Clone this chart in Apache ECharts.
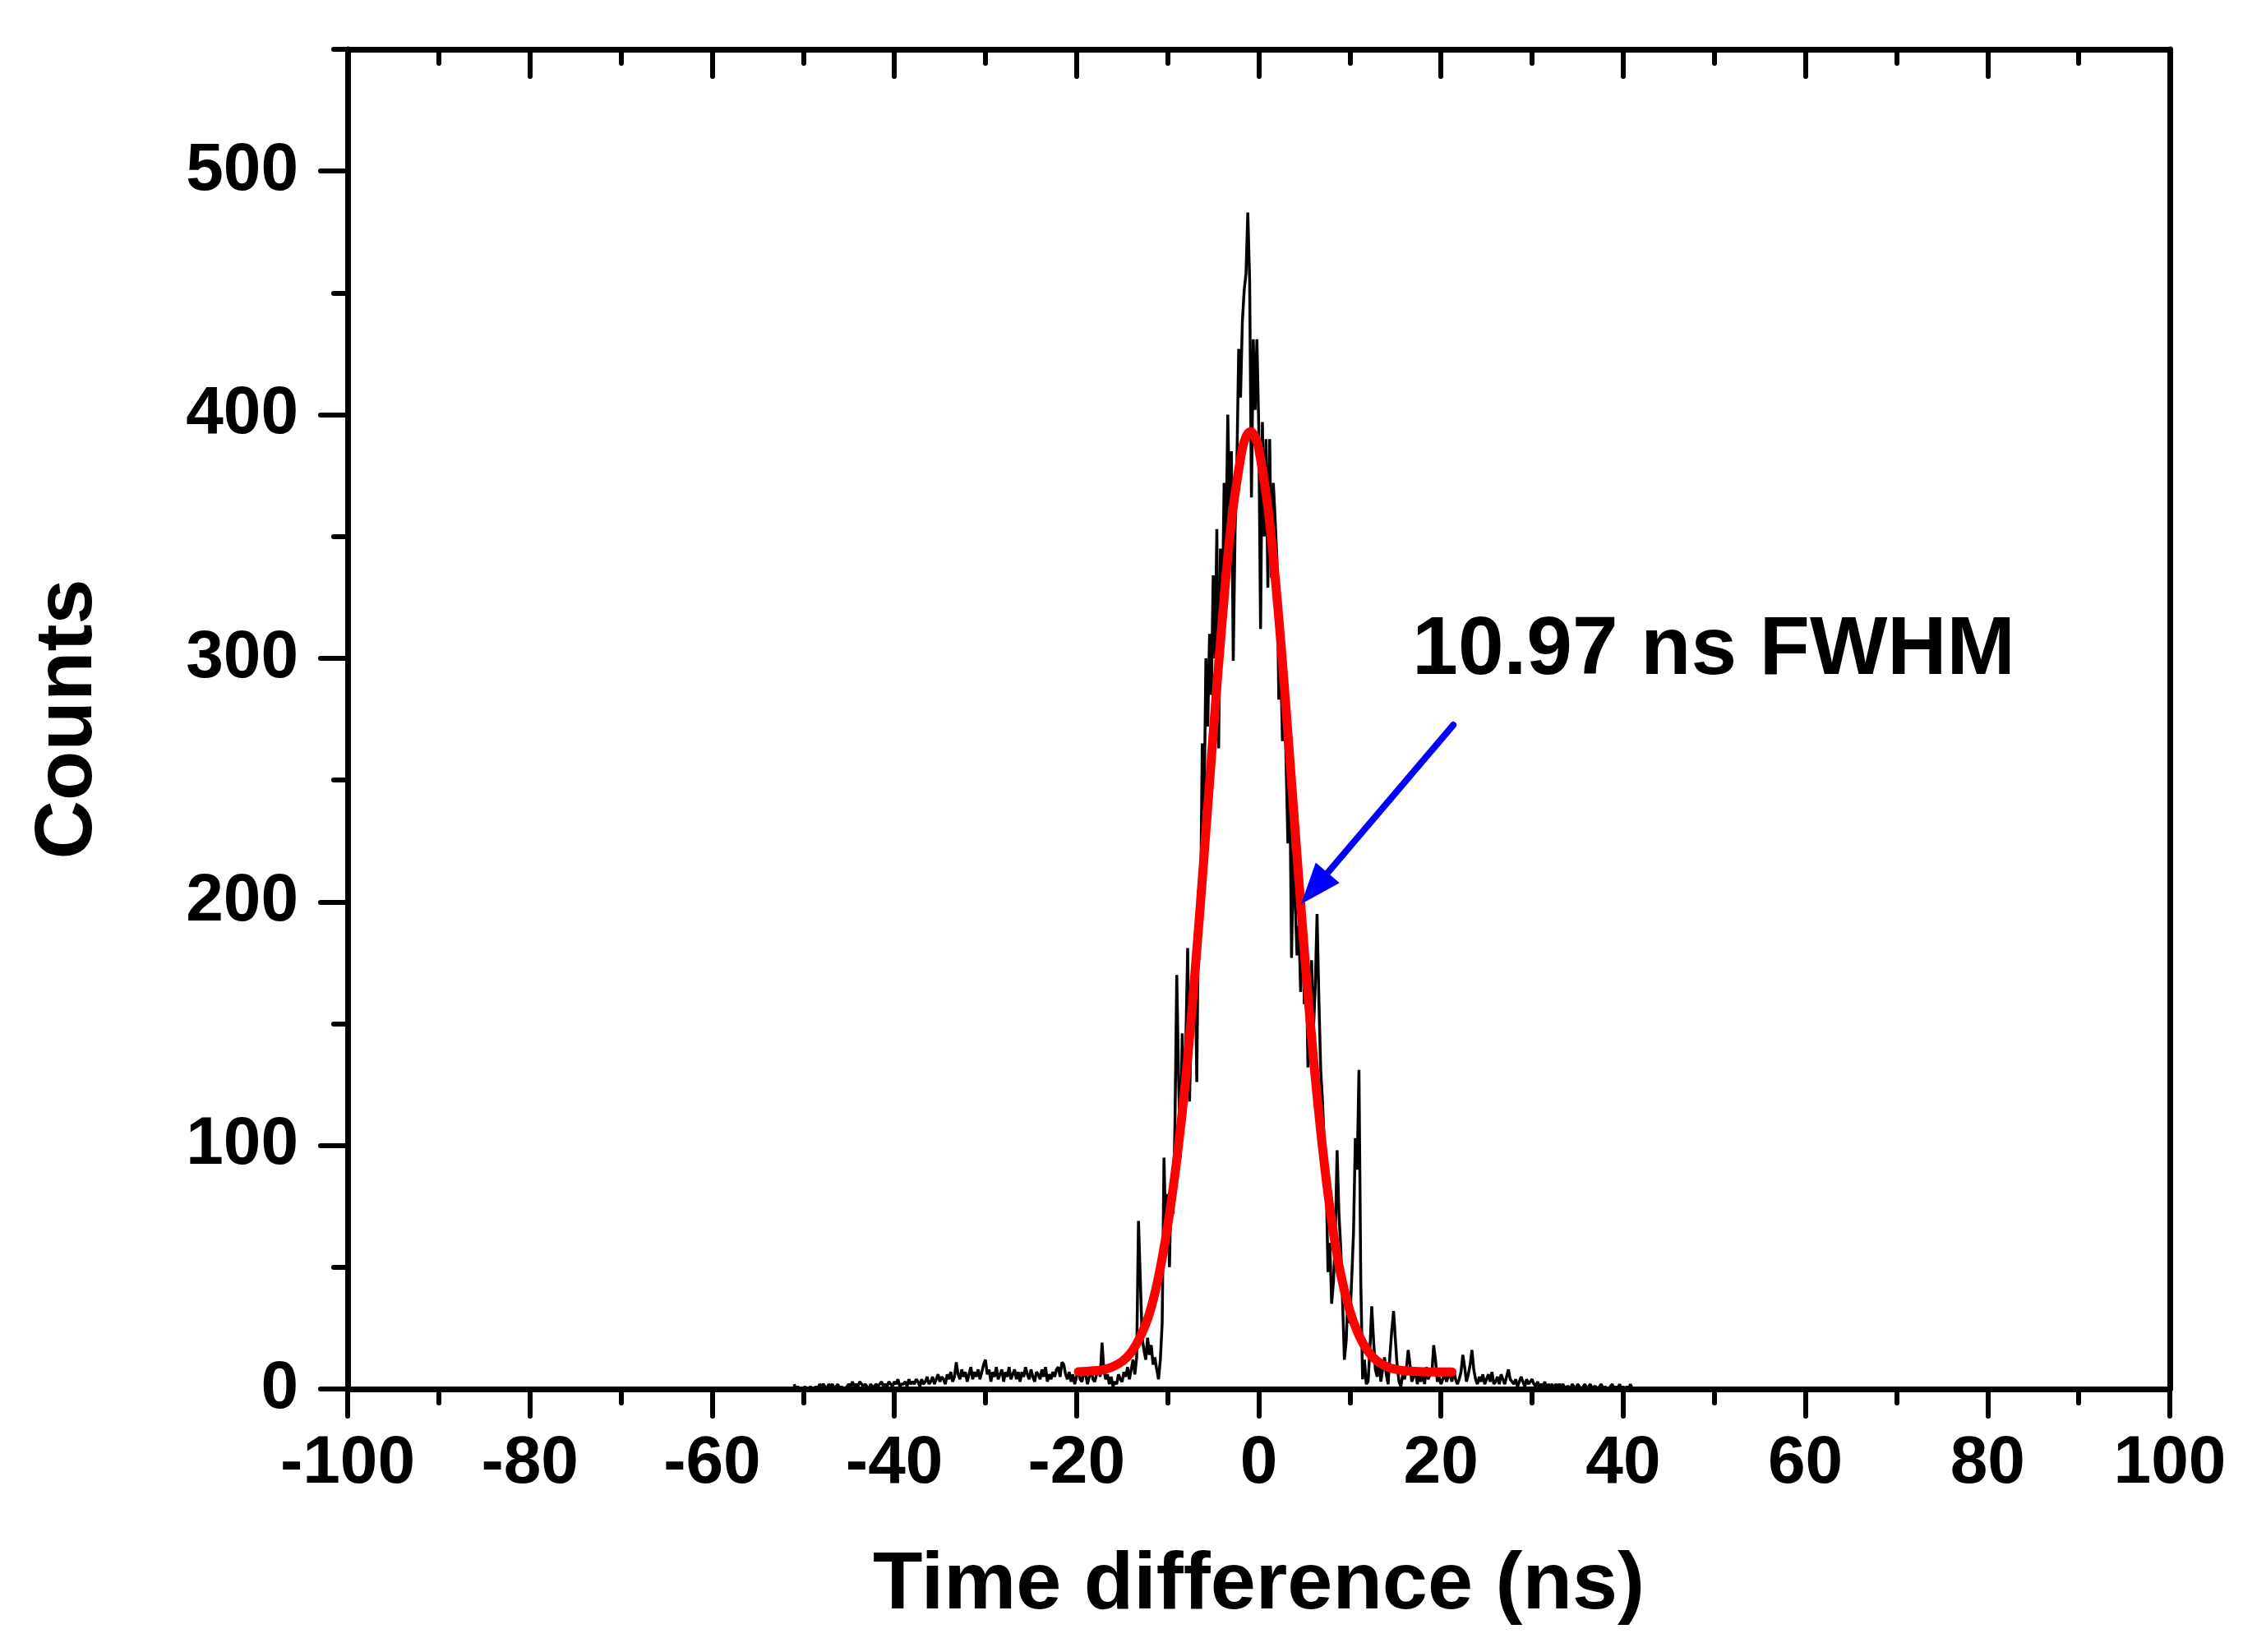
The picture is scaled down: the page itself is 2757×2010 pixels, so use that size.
<!DOCTYPE html>
<html><head><meta charset="utf-8">
<script src="https://cdn.jsdelivr.net/npm/echarts@6/dist/echarts.min.js"></script>
<style>html,body{margin:0;padding:0;background:#fff}#c{width:2757px;height:2010px}</style>
</head><body><div id="c"></div>
<script>
// Histogram: bins of 0.2 ns starting at -51.0 ns
const binStart = -51.0;
const binWidth = 0.2;
const counts = [
  2,0,1,0,0, 0,1,0,0,1, 0,0,1,0,2, 1,2,1,0,2, 1,2,0,1,2, 0,1,0,0,1,
  2,1,3,1,2, 1,3,2,1,2, 1,0,2,1,1, 2,1,2,3,1, 2,1,3,2,1, 3,2,4,1,2,
  2,3,1,4,2, 3,2,4,3,1, 4,2,3,5,2, 3,5,2,4,6, 3,5,4,2,6, 4,7,3,5,11,
  6,4,8,5,7, 3,6,9,4,7, 5,8,4,7,10, 12,6,8,3,7, 5,9,4,6,8, 3,7,5,9,4,
  6,8,4,7,3, 7,5,9,6,4, 8,5,3,7,6, 4,8,5,9,3, 6,4,7,5,8, 9,5,11,10,6,
  4,7,3,6,2, 5,8,4,3,7, 6,2,5,8,4, 3,6,9,5,19, 8,4,6,2,5, 1,3,2,6,4,
  3,7,5,9,4, 8,12,6,13,69, 45,21,16,12,21, 14,18,10,13,8, 4,12,27,95,62,
  80,50,86,72,108, 170,128,95,146,112, 143,181,118,150,166, 181,126,205,192,265,
  238,300,272,310,285, 334,300,353,263,345, 318,372,345,400,360, 385,299,352,380,427,
  407,438,451,458,483, 455,366,431,402,431,
  395,312,397,350,390, 329,390,333,372,357, 340,283,300,266,290, 257,224,252,177,221,
  200,178,190,163,205, 158,178,132,150,176, 147,165,195,160,131, 118,100,86,48,60,
  35,44,62,98,72, 58,36,12,20,39, 27,45,64,103,90, 131,44,4,12,2,
  3,16,34,20,8, 5,12,3,8,13, 6,2,14,24,32, 20,9,3,1,6, 4,8,16,10,3,
  5,8,2,6,3, 7,2,9,4,6, 6,18,12,3,5, 2,4,7,3,5, 6,3,8,4,2,
  4,7,14,9,3, 6,10,16,8,4, 2,5,3,6,2, 4,6,3,7,2, 3,5,2,6,4,
  2,5,8,4,3, 2,4,1,3,5, 3,1,4,2,3, 4,2,1,3,1, 2,1,3,0,2,
  1,2,0,2,1, 2,1,2,0,1, 1,0,2,1,0, 2,1,0,1,2, 0,1,2,0,1,
  1,0,1,2,0, 1,0,0,1,2, 0,1,0,2,0, 1,0,1,0,2,
  0
];
// Gaussian fit curve
const fitTimes  = [-19.8,-18,-17,-16,-15,-14,-13,-12,-11,-10,-9,-8,-7,-6,-5,-4,-3,-2,-1.5,-0.9,-0.3,0,1,2,3,4,5,6,7,8,9,10,11,12,13,14,15,16,18,21.2];
const fitCounts = [7.1,7.5,8.0,9.2,11.3,15,21.5,31,46,67,94,128,171,219,269,316,356,382,390,393,390,386,362,325,279,229,180,136,99,69,47,32,22,15.4,11.5,9.3,8.1,7.5,7.1,7.0];
// Axis ticks
const yTickLabels = [0,100,200,300,400,500];
const yMinorTicks = [50,150,250,350,450,550];
// Annotation
const annotationText = '10.97 ns FWHM';
const arrowFrom = [21.35, 272.6];
const arrowTo = [6.1, 205.5];
const annotationAt = [16.85, 303];

const FONT = '"Liberation Sans", Arial, sans-serif';
const histData = counts.map((c, i) => [+(binStart + i * binWidth).toFixed(2), c]);
const fitData = fitTimes.map((t, i) => [t, fitCounts[i]]);

const chart = echarts.init(document.getElementById('c'), null, {renderer: 'canvas', width: 2757, height: 2010});
const axisLineStyle = {color: '#000', width: 7};
const tickStyle = {color: '#000', width: 6, cap: 'round'};
const labelStyle = {color: '#000', fontSize: 82, fontWeight: 'bold', fontFamily: FONT};

chart.setOption({
  animation: false,
  backgroundColor: '#ffffff',
  grid: {left: 423, right: 117, top: 60, bottom: 320, containLabel: false},
  xAxis: [{
    type: 'value', min: -100, max: 100, interval: 20, position: 'bottom',
    axisLine: {show: true, onZero: false, lineStyle: axisLineStyle},
    axisTick: {show: true, inside: false, length: 33, lineStyle: tickStyle},
    minorTick: {show: true, splitNumber: 2, length: 17, lineStyle: tickStyle},
    axisLabel: Object.assign({show: true, margin: 50}, labelStyle),
    splitLine: {show: false}, minorSplitLine: {show: false},
    name: 'Time difference (ns)', nameLocation: 'middle', nameGap: 190,
    nameTextStyle: {color: '#000', fontSize: 99, fontWeight: 'bold', fontFamily: FONT}
  }, {
    type: 'value', min: -100, max: 100, interval: 20, position: 'top',
    axisLine: {show: true, onZero: false, lineStyle: axisLineStyle},
    axisTick: {show: true, inside: true, length: 33, lineStyle: tickStyle},
    minorTick: {show: true, splitNumber: 2, length: 17, lineStyle: tickStyle},
    axisLabel: {show: false}, splitLine: {show: false}, minorSplitLine: {show: false}
  }],
  yAxis: [{
    type: 'value', min: 0, max: 550, interval: 100, position: 'left',
    axisLine: {show: true, onZero: false, lineStyle: axisLineStyle},
    axisTick: {show: true, inside: false, length: 33, lineStyle: tickStyle, customValues: yTickLabels},
    axisLabel: Object.assign({show: true, margin: 60, customValues: yTickLabels}, labelStyle),
    splitLine: {show: false},
    name: 'Counts', nameLocation: 'middle', nameGap: 290, nameRotate: 90,
    nameTextStyle: {color: '#000', fontSize: 99, fontWeight: 'bold', fontFamily: FONT}
  }, {
    type: 'value', min: 0, max: 550, position: 'right',
    axisLine: {show: true, onZero: false, lineStyle: axisLineStyle},
    axisTick: {show: false}, axisLabel: {show: false}, splitLine: {show: false}
  }, {
    type: 'value', min: 0, max: 550, interval: 50, position: 'left', offset: 0,
    axisLine: {show: false, onZero: false},
    axisTick: {show: true, inside: false, length: 17, lineStyle: tickStyle, customValues: yMinorTicks},
    axisLabel: {show: false}, splitLine: {show: false}
  }],
  series: [{
    type: 'line', name: 'Counts', data: histData, xAxisIndex: 0, yAxisIndex: 0,
    symbol: 'none', showSymbol: false, smooth: false,
    lineStyle: {color: '#000', width: 3.5}, z: 2
  }, {
    type: 'line', name: 'Gaussian fit', data: fitData, xAxisIndex: 0, yAxisIndex: 0,
    symbol: 'none', showSymbol: false, smooth: 0.4,
    lineStyle: {color: '#ff0000', width: 11, cap: 'round'}, z: 3,
    markLine: {
      silent: true, symbol: ['none', 'triangle'], symbolSize: [38, 50],
      itemStyle: {color: '#0000ff'},
      lineStyle: {color: '#0000ff', width: 8, type: 'solid', cap: 'round'},
      label: {show: false},
      data: [[{coord: arrowFrom}, {coord: arrowTo}]]
    },
    markPoint: {
      silent: true, symbol: 'circle', symbolSize: 1,
      itemStyle: {color: 'rgba(0,0,0,0)'},
      label: {show: true, position: 'inside', align: 'left', verticalAlign: 'middle',
        formatter: annotationText, color: '#000', fontSize: 100, fontWeight: 'bold', fontFamily: FONT},
      data: [{coord: annotationAt}]
    }
  }]
});
</script>
</body></html>
